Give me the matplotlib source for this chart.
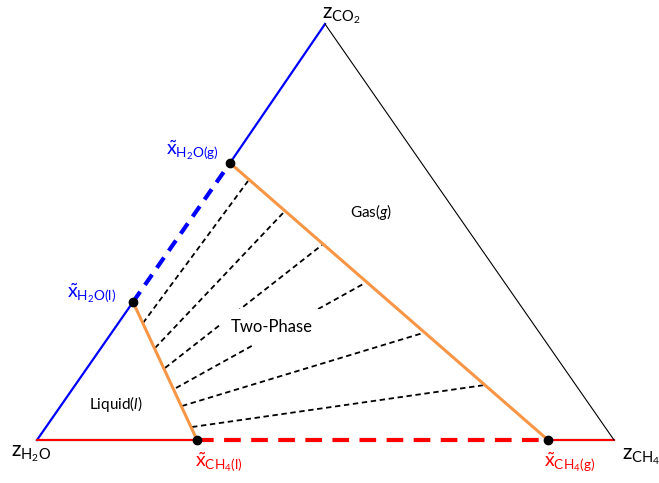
import matplotlib
matplotlib.use("Agg")
import matplotlib.pyplot as plt

plt.rcParams['font.family'] = ['Lato', 'DejaVu Sans']
plt.rcParams['mathtext.fontset'] = 'custom'
plt.rcParams['mathtext.rm'] = 'Lato'
plt.rcParams['mathtext.it'] = 'Lato:italic'

# triangle corners (H2O, CH4, CO2), in picture units
h2o = (37, 440)
ch4 = (614, 440)
co2 = (325, 24)

# phase boundary points
x_h2o_g = (230, 163)
x_h2o_l = (133, 302)
x_ch4_l = (197, 440)
x_ch4_g = (548, 440)

# tie lines: liquid end -> gas end
tie_liq_x = [143, 155, 165, 176, 182, 192]
tie_liq_y = [323, 348, 368, 388, 406, 427]
tie_gas_x = [248, 284, 322, 365, 423, 485]
tie_gas_y = [181, 212, 245, 283, 333, 385]

fig = plt.figure(figsize=(6.59, 4.83), dpi=100)
ax = fig.add_axes([0, 0, 1, 1])
ax.set_xlim(0, 659)
ax.set_ylim(483, 0)
ax.axis("off")

blue = "#0000ff"
red = "#ff0000"
orange = "#f79646"

# H2O-CO2 side
ax.plot([h2o[0], x_h2o_l[0]], [h2o[1], x_h2o_l[1]], color=blue, lw=1.6)
ax.plot([x_h2o_l[0], x_h2o_g[0]], [x_h2o_l[1], x_h2o_g[1]], color=blue, lw=3, ls=(0, (3, 2)))
ax.plot([x_h2o_g[0], co2[0]], [x_h2o_g[1], co2[1]], color=blue, lw=1.6)

# H2O-CH4 side
ax.plot([h2o[0], x_ch4_l[0]], [h2o[1], x_ch4_l[1]], color=red, lw=1.6)
ax.plot([x_ch4_l[0], x_ch4_g[0]], [x_ch4_l[1], x_ch4_g[1]], color=red, lw=3, ls=(0, (4, 2.5)))
ax.plot([x_ch4_g[0], ch4[0]], [x_ch4_g[1], ch4[1]], color=red, lw=1.6)

# CO2-CH4 side
ax.plot([co2[0], ch4[0]], [co2[1], ch4[1]], color="black", lw=0.8)

# tie lines
for xl, yl, xg, yg in zip(tie_liq_x, tie_liq_y, tie_gas_x, tie_gas_y):
    ax.plot([xl, xg], [yl, yg], color="black", lw=1.3, ls=(0, (3, 2)))

# phase boundaries
ax.plot([x_h2o_l[0], x_ch4_l[0]], [x_h2o_l[1], x_ch4_l[1]], color=orange, lw=2.2)
ax.plot([x_h2o_g[0], x_ch4_g[0]], [x_h2o_g[1], x_ch4_g[1]], color=orange, lw=2.2)

pts = [x_h2o_g, x_h2o_l, x_ch4_l, x_ch4_g]
ax.plot([p[0] for p in pts], [p[1] for p in pts], "o", color="black", ms=6, zorder=5)

# region labels
ax.text(272, 327, "Two-Phase", fontsize=12, ha="center", va="center",
        bbox=dict(facecolor="white", edgecolor="none", pad=7), zorder=4)
ax.text(371, 212, r"Gas$\mathit{(g)}$", fontsize=11, ha="center", va="center")
ax.text(116, 404, r"Liquid$\mathit{(l)}$", fontsize=11, ha="center", va="center")

# corner labels
ax.text(11, 454, r"$\mathrm{z}_{\mathrm{H_2O}}$", fontsize=15, ha="left", va="center")
ax.text(622, 457, r"$\mathrm{z}_{\mathrm{CH_4}}$", fontsize=15, ha="left", va="center")
ax.text(322, 16, r"$\mathrm{z}_{\mathrm{CO_2}}$", fontsize=15, ha="left", va="center")

# composition labels
ax.text(166, 150, r"$\tilde{\mathrm{x}}_{\mathrm{H_2O(g)}}$", fontsize=14, color=blue, ha="left", va="center")
ax.text(67, 293, r"$\tilde{\mathrm{x}}_{\mathrm{H_2O(l)}}$", fontsize=14, color=blue, ha="left", va="center")
ax.text(195, 462, r"$\tilde{\mathrm{x}}_{\mathrm{CH_4(l)}}$", fontsize=14, color=red, ha="left", va="center")
ax.text(544, 462, r"$\tilde{\mathrm{x}}_{\mathrm{CH_4(g)}}$", fontsize=14, color=red, ha="left", va="center")

fig.savefig("out.png", dpi=100)
